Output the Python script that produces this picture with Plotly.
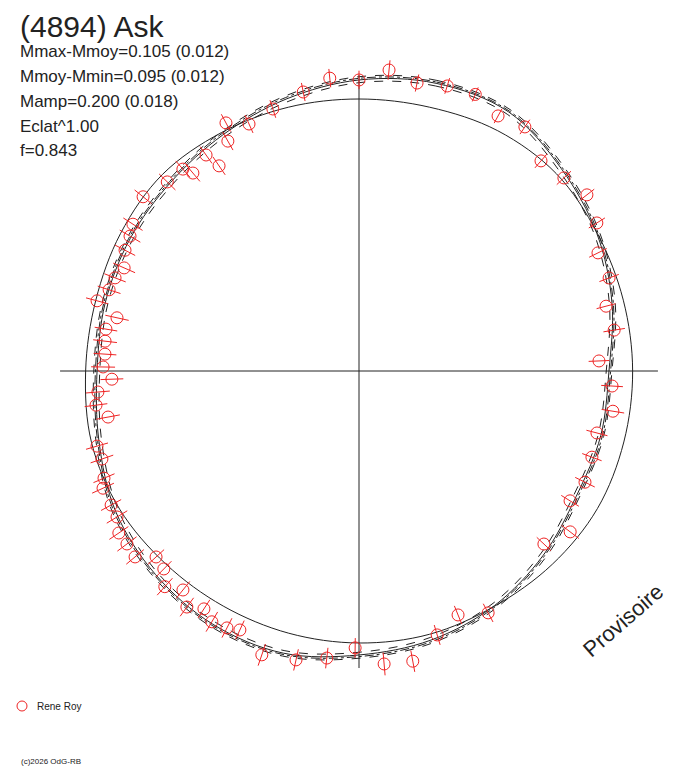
import plotly.graph_objects as go

# the page body adds an 8 px margin, so the figure is drawn 8 px in from the corner
OFF = 8
W, H = 688 - OFF, 768 - OFF

# observations: rotational phase (deg, clockwise from top) and relative flux
phase = [0.0, 5.7, 11.4, 17.2, 22.8, 28.6, 34.2, 40.9, 46.7, 52.3, 58.1, 63.7, 69.6,
         75.3, 80.9, 87.6, 93.4, 99.0, 104.6, 110.3, 116.2, 121.6, 127.3, 133.1,
         151.9, 157.9, 163.5, 169.5, 175.1, 180.8, 186.4, 192.3, 198.9, 204.7, 207.2,
         210.4, 213.1, 216.1, 218.8, 222.0, 224.6, 227.5, 230.3, 233.3, 236.0, 238.9,
         241.6, 245.4, 247.2, 251.1, 254.0, 259.6, 262.6, 265.4, 268.1, 270.9, 273.8,
         276.7, 279.4, 282.4, 285.0, 288.0, 290.9, 293.7, 297.3, 300.5, 303.0, 308.9,
         314.6, 318.9, 320.0, 324.7, 325.7, 330.3, 331.8, 336.0, 341.8, 348.7, 354.3]
flux = [1.070, 1.112, 1.080, 1.097, 1.103, 1.068, 1.085, 1.022, 1.035, 1.059, 1.030,
        0.980, 0.981, 0.939, 0.950, 0.883, 0.932, 0.945, 0.904, 0.913, 0.926, 0.911,
        0.976, 0.931, 1.008, 0.968, 1.012, 1.085, 1.081, 1.018, 1.062, 1.087, 1.103,
        1.048, 1.062, 1.069, 1.044, 1.074, 1.033, 1.067, 1.022, 1.012, 1.070, 1.064,
        1.065, 1.039, 1.036, 1.035, 1.017, 0.999, 1.002, 0.938, 0.975, 0.963, 0.909,
        0.941, 0.936, 0.940, 0.943, 0.911, 0.997, 0.966, 0.960, 0.943, 0.968, 0.977,
        0.991, 1.020, 0.990, 0.985, 0.950, 0.973, 0.913, 0.973, 1.035, 0.994, 1.014,
        1.046, 1.082]
flux_err = [0.034, 0.036, 0.032, 0.030, 0.028, 0.030, 0.032, 0.034, 0.036, 0.034, 0.035,
            0.036, 0.038, 0.036, 0.040, 0.038, 0.040, 0.042, 0.040, 0.038, 0.040, 0.038,
            0.040, 0.036, 0.038, 0.036, 0.038, 0.040, 0.042, 0.036, 0.038, 0.040, 0.042,
            0.038, 0.040, 0.042, 0.040, 0.042, 0.040, 0.042, 0.040, 0.040, 0.042, 0.044,
            0.042, 0.044, 0.042, 0.044, 0.042, 0.044, 0.042, 0.044, 0.042, 0.044, 0.042,
            0.044, 0.042, 0.044, 0.042, 0.044, 0.042, 0.044, 0.042, 0.044, 0.042, 0.044,
            0.042, 0.040, 0.042, 0.040, 0.040, 0.038, 0.040, 0.038, 0.036, 0.036, 0.034,
            0.034, 0.034]

# model curves sampled every 15 deg
curve_phase = [0, 15, 30, 45, 60, 75, 90, 105, 120, 135, 150, 165, 180, 195, 210, 225,
               240, 255, 270, 285, 300, 315, 330, 345]
fit_main = [1.070, 1.095, 1.100, 1.052, 1.010, 0.963, 0.919, 0.920, 0.922, 0.958, 0.996,
            1.024, 1.044, 1.074, 1.075, 1.058, 1.033, 0.990, 0.963, 0.966, 0.972, 0.980,
            1.002, 1.035]
fit_high = [1.082, 1.106, 1.110, 1.064, 1.021, 0.975, 0.930, 0.931, 0.934, 0.970, 1.007,
            1.036, 1.056, 1.085, 1.086, 1.069, 1.045, 1.001, 0.975, 0.977, 0.983, 0.991,
            1.014, 1.047]
fit_low = [1.060, 1.085, 1.090, 1.041, 1.000, 0.953, 0.909, 0.910, 0.912, 0.947, 0.986,
           1.014, 1.034, 1.064, 1.064, 1.048, 1.022, 0.980, 0.953, 0.956, 0.962, 0.970,
           0.992, 1.024]
fit_mid = [1.076, 1.100, 1.104, 1.057, 1.015, 0.968, 0.925, 0.926, 0.928, 0.963, 1.001,
           1.030, 1.050, 1.079, 1.080, 1.063, 1.039, 0.995, 0.969, 0.971, 0.977, 0.985,
           1.008, 1.041]
mean_curve = [1.000, 1.004, 1.020, 1.026, 1.012, 1.006, 1.006, 1.008, 1.012, 1.005, 0.998,
              1.002, 1.000, 0.998, 0.998, 1.004, 1.016, 1.018, 1.005, 1.002, 1.012, 1.022,
              1.012, 1.004]

axis_len = [1.088, 1.099, 1.092, 1.099]  # top, right, bottom, left

RED = "#ee2424"
INK = "#222222"
FONT = "Liberation Sans, Arial, sans-serif"


def px(x):
    return (x - OFF) / W


def py(y):
    return 1 - (y - OFF) / H


def closed(vals):
    return list(vals) + [vals[0]]


fig = go.Figure()

# axes through the centre
fig.add_trace(go.Scatterpolar(r=[axis_len[0], 0, axis_len[2]], theta=[0, 0, 180],
                              mode="lines", line=dict(color=INK, width=1)))
fig.add_trace(go.Scatterpolar(r=[axis_len[3], 0, axis_len[1]], theta=[270, 0, 90],
                              mode="lines", line=dict(color=INK, width=1)))

fig.add_trace(go.Scatterpolar(r=closed(mean_curve), theta=closed(curve_phase), mode="lines",
                              line=dict(color=INK, width=1, shape="spline")))
for vals, dash in [(fit_high, "dash"), (fit_low, "dash"), (fit_mid, "dashdot"),
                   (fit_main, "solid")]:
    fig.add_trace(go.Scatterpolar(r=closed(vals), theta=closed(curve_phase), mode="lines",
                                  line=dict(color=INK, width=1, dash=dash, shape="spline")))

# radial error bars
eb_r, eb_t = [], []
for t, f, e in zip(phase, flux, flux_err):
    eb_r += [f - e, f + e, None]
    eb_t += [t, t, None]
fig.add_trace(go.Scatterpolar(r=eb_r, theta=eb_t, mode="lines",
                              line=dict(color=RED, width=1)))
fig.add_trace(go.Scatterpolar(r=flux, theta=phase, mode="markers", cliponaxis=False,
                              marker=dict(symbol="circle-open", size=12,
                                          line=dict(color=RED, width=1), color=RED)))

R = 325
CX, CY = 359, 371
fig.update_layout(
    width=W, height=H, showlegend=False,
    paper_bgcolor="white", plot_bgcolor="white",
    margin=dict(l=0, r=0, t=0, b=0),
    polar=dict(
        domain=dict(x=[px(CX - R), px(CX + R)], y=[py(CY + R), py(CY - R)]),
        bgcolor="white",
        radialaxis=dict(visible=False, range=[0, R / 272]),
        angularaxis=dict(visible=False, rotation=90, direction="clockwise"),
    ),
)

fig.add_annotation(x=px(18), y=py(8), xref="paper", yref="paper", text="(4894) Ask",
                   showarrow=False, xanchor="left", yanchor="top",
                   font=dict(family=FONT, size=30, color=INK))
info = ["Mmax-Mmoy=0.105 (0.012)", "Mmoy-Mmin=0.095 (0.012)", "Mamp=0.200 (0.018)",
        "Eclat^1.00", "f=0.843"]
for i, line in enumerate(info):
    fig.add_annotation(x=px(18), y=py(51 + 25 * i), xref="paper", yref="paper", text=line,
                       showarrow=False, xanchor="left", yanchor="middle",
                       font=dict(family=FONT, size=17, color=INK))

fig.add_annotation(x=px(623), y=py(620), xref="paper", yref="paper", text="Provisoire",
                   showarrow=False, textangle=-41, xanchor="center", yanchor="middle",
                   font=dict(family=FONT, size=22, color=INK))

fig.add_shape(type="circle", xref="paper", yref="paper",
              x0=px(17), x1=px(27), y0=py(711), y1=py(701),
              line=dict(color=RED, width=1))
fig.add_annotation(x=px(35), y=py(706), xref="paper", yref="paper", text="Rene Roy",
                   showarrow=False, xanchor="left", yanchor="middle",
                   font=dict(family=FONT, size=10, color=INK))
fig.add_annotation(x=px(19), y=py(761), xref="paper", yref="paper", text="(c)2026 OdG-RB",
                   showarrow=False, xanchor="left", yanchor="middle",
                   font=dict(family=FONT, size=8, color=INK))

fig.write_html("out.html")
